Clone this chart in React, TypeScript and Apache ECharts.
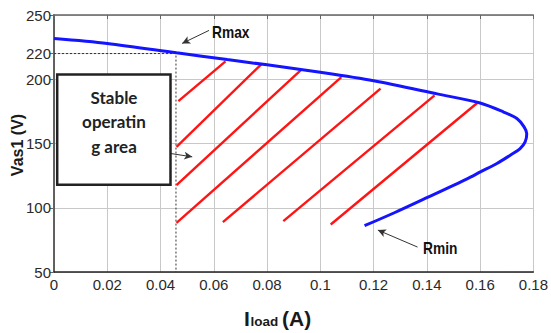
import React, { useEffect, useRef } from "react";
import * as echarts from "echarts";

// Y tick values (axis is linear, 50..250)
const yTicks = [50, 100, 150, 200, 220, 250];
// Blue curve Rmax -> Rmin (I_load [A], Vas1 [V])
const blueCurve: [number, number][] = [
  [0, 231.7], [0.02, 227.9], [0.046, 220.6], [0.065, 215.3], [0.08, 211.2],
  [0.1, 205.4], [0.12, 198.8], [0.1439, 188.6], [0.16, 181.5], [0.1688, 174.5],
  [0.1738, 169.4], [0.1765, 162.9], [0.1775, 157.5], [0.1769, 151.2], [0.175, 146],
  [0.1713, 140.9], [0.1663, 134.4], [0.1601, 127.9], [0.1551, 122.5], [0.14, 107.8],
  [0.128, 96.3], [0.1166, 86],
];
// Dashed guide at Rmax point
const guide: [number, number][] = [[0, 220], [0.0458, 220], [0.0458, 50]];
// Red hatch lines
const hatch1: [number, number][] = [[0.0467, 183.0], [0.0644, 213.9]];
const hatch2: [number, number][] = [[0.046, 147.3], [0.0778, 211.6]];
const hatch3: [number, number][] = [[0.046, 117.6], [0.093, 207.7]];
const hatch4: [number, number][] = [[0.046, 88.3], [0.1079, 201.7]];
const hatch5: [number, number][] = [[0.0634, 88.8], [0.1226, 192.7]];
const hatch6: [number, number][] = [[0.0861, 89.6], [0.1429, 187.5]];
const hatch7: [number, number][] = [[0.1039, 87], [0.1589, 181.5]];
const hatches = [hatch1, hatch2, hatch3, hatch4, hatch5, hatch6, hatch7];
// Annotation arrows (from -> to)
const arrowRmax: [number, number][] = [[0.0582, 238], [0.0481, 227.9]];
const arrowRmin: [number, number][] = [[0.1365, 69.4], [0.1216, 82.6]];
const arrowBox: [number, number][] = [[0.0439, 142.2], [0.0519, 139.6]];

export default function App() {
  const ref = useRef<HTMLDivElement>(null);
  useEffect(() => {
    document.body.style.margin = "0";
    const chart = echarts.init(ref.current!, null, { renderer: "svg" });
    const tickFont = { fontFamily: "Liberation Sans, Arial, sans-serif", fontSize: 15, color: "#2a2a2a" };
    const hatchSeries = hatches.map((h) => ({
      type: "line",
      data: h,
      symbol: "none",
      lineStyle: { color: "#ff1414", width: 2.4 },
      z: 2,
      silent: true,
    }));
    const arrowLine = (a: [number, number][]) => [{ coord: a[0] }, { coord: a[1] }];
    const annFont = "bold 16px 'Liberation Sans', Arial, sans-serif";
    chart.setOption({
      animation: false,
      grid: { left: 54, right: 14, top: 15, bottom: 61, containLabel: false },
      xAxis: [
        {
          type: "value", min: 0, max: 0.18, interval: 0.02,
          axisLine: { show: true, lineStyle: { color: "#222", width: 1.5 } },
          axisTick: { show: false },
          axisLabel: { ...tickFont, margin: 5 },
          splitLine: { show: true, lineStyle: { color: "#c8c8c8", width: 1 } },
        },
        {
          type: "value", min: 0, max: 0.18, interval: 0.02, position: "top",
          axisLine: { show: true, lineStyle: { color: "#666", width: 1.5 } },
          axisTick: { show: true, inside: true, length: 4, lineStyle: { color: "#666" } },
          axisLabel: { show: false },
          splitLine: { show: false },
        },
      ],
      yAxis: [
        {
          type: "value", min: 50, max: 250, interval: 50,
          axisLine: { show: true, lineStyle: { color: "#222", width: 1.5 } },
          axisTick: { show: true, length: 3, customValues: yTicks, lineStyle: { color: "#555" } },
          axisLabel: { ...tickFont, margin: 3, customValues: yTicks },
          splitLine: { show: true, lineStyle: { color: "#c8c8c8", width: 1 } },
        },
        {
          type: "value", min: 50, max: 250, interval: 50, position: "right",
          axisLine: { show: true, lineStyle: { color: "#666", width: 1.5 } },
          axisTick: { show: true, inside: true, length: 4, customValues: yTicks, lineStyle: { color: "#666" } },
          axisLabel: { show: false },
          splitLine: { show: false },
        },
      ],
      series: [
        {
          type: "line", data: guide, symbol: "none", silent: true, z: 1,
          lineStyle: { color: "#333", width: 1, type: [2, 2] },
        },
        ...hatchSeries,
        {
          type: "line", data: blueCurve, symbol: "none", smooth: 0.3, z: 3, silent: true,
          lineStyle: { color: "#1414ff", width: 3 },
        },
        {
          type: "line", data: [], symbol: "none",
          markLine: {
            silent: true, animation: false,
            symbol: ["none", "arrow"], symbolSize: [6, 8],
            label: { show: false },
            lineStyle: { color: "#333", width: 1, type: "solid" },
            data: [arrowLine(arrowRmax), arrowLine(arrowRmin), arrowLine(arrowBox)],
          },
        },
      ],
      graphic: [
        {
          type: "rect", z: 10,
          shape: { x: 57.2, y: 74.5, width: 113.3, height: 110.2 },
          style: { fill: "#fff", stroke: "#222", lineWidth: 2.5 },
        },
        ...[["Stable", 97], ["operatin", 121.5], ["g area", 146]].map(([t, y]) => ({
          type: "text", z: 11, x: 114, y: y as number,
          style: { text: t as string, fill: "#222", font: "bold 17px Lato, 'Open Sans', sans-serif", align: "center", verticalAlign: "middle" },
        })),
        {
          type: "text", z: 11, x: 212, y: 32, scaleX: 0.86,
          style: { text: "Rmax", fill: "#111", font: annFont, align: "left", verticalAlign: "middle" },
        },
        {
          type: "text", z: 11, x: 423, y: 248, scaleX: 0.86,
          style: { text: "Rmin", fill: "#111", font: annFont, align: "left", verticalAlign: "middle" },
        },
        {
          type: "text", z: 11, x: 17, y: 145, rotation: Math.PI / 2,
          style: { text: "Vas1 (V)", fill: "#1a1a1a", font: "bold 16px 'Liberation Sans', Arial, sans-serif", align: "center", verticalAlign: "middle" },
        },
        {
          type: "text", z: 11, x: 244, y: 318.5,
          style: { text: "I", fill: "#1a1a1a", font: "bold 21px 'Liberation Sans', Arial, sans-serif", align: "left", verticalAlign: "middle" },
        },
        {
          type: "text", z: 11, x: 250.5, y: 321.5,
          style: { text: "load", fill: "#1a1a1a", font: "bold 13.5px 'Liberation Sans', Arial, sans-serif", align: "left", verticalAlign: "middle" },
        },
        {
          type: "text", z: 11, x: 282, y: 318.5,
          style: { text: "(A)", fill: "#1a1a1a", font: "bold 21px 'Liberation Sans', Arial, sans-serif", align: "left", verticalAlign: "middle" },
        },
      ],
    });
    return () => chart.dispose();
  }, []);
  return <div ref={ref} style={{ width: 551, height: 333 }} />;
}
